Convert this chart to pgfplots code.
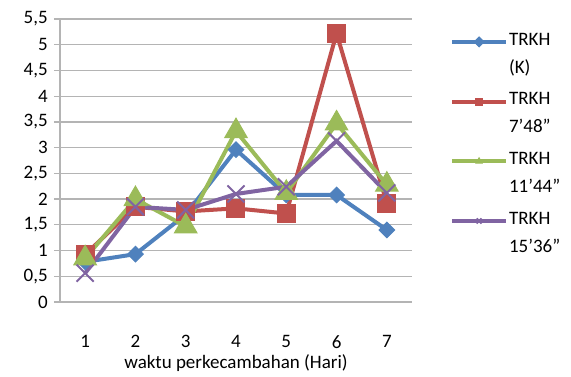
\documentclass[border=0pt]{standalone}
\usepackage{fontspec}
\setmainfont{Carlito}
\usepackage{pgfplots}
\pgfplotsset{compat=1.18}

\definecolor{sBlue}{HTML}{4F81BD}
\definecolor{sRed}{HTML}{C0504D}
\definecolor{sGreen}{HTML}{9BBB59}
\definecolor{sPurple}{HTML}{8064A2}
\definecolor{gridgray}{HTML}{B4B4B4}

\begin{document}
\begin{tikzpicture}[x=1pt,y=1pt]
\useasboundingbox (0,0) rectangle (571,376);
\begin{axis}[
  at={(60pt,74pt)}, anchor=south west,
  scale only axis, width=352pt, height=283pt,
  xmin=0.5, xmax=7.5, ymin=0, ymax=5.5,
  axis x line*=bottom, axis y line*=left,
  axis line style={gridgray, line width=1.2pt},
  xtick={1,2,3,4,5,6,7},
  major x tick style={draw=none},
  extra x ticks={0.5,1.5,2.5,3.5,4.5,5.5,6.5,7.5},
  extra x tick labels={},
  extra x tick style={grid=none, major tick length=8pt, tick align=outside,
    major tick style={gridgray, line width=1.2pt}},
  ytick={0,0.5,1,1.5,2,2.5,3,3.5,4,4.5,5,5.5},
  ymajorgrids,
  grid style={gridgray, line width=1.2pt},
  major y tick style={gridgray, line width=1.2pt},
  tick align=outside, major tick length=6pt,
  /pgf/number format/assume math mode=true,
  /pgf/number format/use comma,
  /pgf/number format/fixed,
  yticklabel style={font=\fontsize{19}{23}\selectfont, xshift=-1pt},
  xticklabel style={font=\fontsize{19}{23}\selectfont, yshift=-22pt},
  xlabel={waktu perkecambahan (Hari)},
  xlabel style={font=\fontsize{19}{23}\selectfont,
    at={(axis description cs:0.5,0)}, anchor=north, yshift=-47pt},
  line width=4pt,
  legend cell align=left,
  legend style={at={(1.094,0.968)}, anchor=north west, draw=none, fill=none,
    font=\fontsize{19}{28}\selectfont,
    nodes={align=left, inner sep=1pt},
    row sep=16pt},
  legend image code/.code={%
    \draw[mark repeat=2, mark phase=2, line width=4pt, yshift=12pt, #1,
      mark size=3.5pt]
      plot coordinates {(0pt,0pt) (27pt,0pt) (54pt,0pt)};},
]
% Kontrol
\addplot[sBlue, mark=square*, mark size=5.5pt,
  mark options={rotate=45, line width=1pt}]
  coordinates {(1,0.78) (2,0.93) (3,1.70) (4,2.96) (5,2.08) (6,2.08) (7,1.40)};
\addlegendentry{TRKH\\(K)}
% 7'48"
\addplot[sRed, mark=square*, mark size=9pt, mark options={line width=1pt}]
  coordinates {(1,0.92) (2,1.85) (3,1.76) (4,1.82) (5,1.72) (6,5.22) (7,1.92)};
\addlegendentry{TRKH\\7’48”}
% 11'44"
\addplot[sGreen, mark=triangle*, mark size=13pt, mark options={line width=1pt}]
  coordinates {(1,0.85) (2,2.00) (3,1.47) (4,3.32) (5,2.12) (6,3.47) (7,2.28)};
\addlegendentry{TRKH\\11’44”}
% 15'36"
\addplot[sPurple, mark=x, mark size=12pt, mark options={line width=2pt}]
  coordinates {(1,0.56) (2,1.85) (3,1.79) (4,2.10) (5,2.24) (6,3.13) (7,2.12)};
\addlegendentry{TRKH\\15’36”}
\end{axis}
\end{tikzpicture}
\end{document}
